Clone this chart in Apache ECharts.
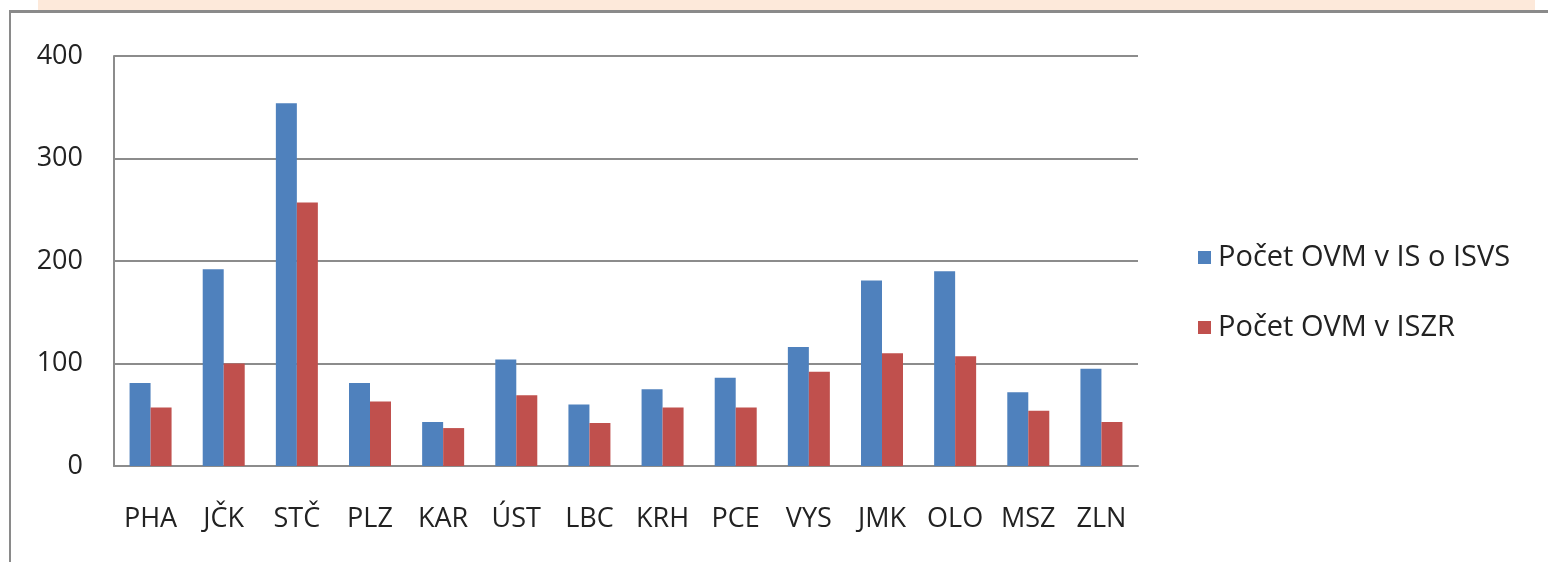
<!DOCTYPE html>
<html>
<head>
<meta charset="utf-8">
<script src="https://cdn.jsdelivr.net/npm/echarts@6/dist/echarts.min.js"></script>
<style>
  html, body { margin: 0; padding: 0; background: #fff; }
  #band { position: absolute; left: 38px; top: 0; width: 1497px; height: 10px; background: #fde9da; }
  #frame { position: absolute; left: 9px; top: 10px; width: 1560px; height: 580px; border-top: 3px solid #8a8a8a; border-left: 2px solid #8a8a8a; }
  #main { position: absolute; left: 0; top: 0; width: 1548px; height: 562px; }
</style>
</head>
<body>
<div id="band"></div>
<div id="frame"></div>
<div id="main"></div>
<script>
// kraje
const regions = ['PHA', 'JČK', 'STČ', 'PLZ', 'KAR', 'ÚST', 'LBC', 'KRH', 'PCE', 'VYS', 'JMK', 'OLO', 'MSZ', 'ZLN'];
// Počet OVM v IS o ISVS
const isvsCounts = [81, 192, 354, 81, 43, 104, 60, 75, 86, 116, 181, 190, 72, 95];
// Počet OVM v ISZR
const iszrCounts = [57, 100, 257, 63, 37, 69, 42, 57, 57, 92, 110, 107, 54, 43];
const yTicks = [0, 100, 200, 300, 400];

const myChart = echarts.init(document.querySelector('#main'));
const font = 'Open Sans';

const option = {
  animation: false,
  grid: { left: 114, right: 410, top: 56, bottom: 96 },
  legend: {
    orient: 'vertical',
    left: 1193,
    top: 238,
    itemGap: 41,
    itemWidth: 13,
    itemHeight: 13,
    icon: 'rect',
    textStyle: { fontFamily: font, fontSize: 29, color: '#222', padding: [0, 0, 0, 2] },
    data: ['Počet OVM v IS o ISVS', 'Počet OVM v ISZR']
  },
  xAxis: {
    type: 'category',
    data: regions,
    axisLine: { lineStyle: { color: '#8c8c8c', width: 2 } },
    axisTick: { show: false },
    axisLabel: { fontFamily: font, fontSize: 27, color: '#222', margin: 40, interval: 0 }
  },
  yAxis: {
    type: 'value',
    min: yTicks[0],
    max: yTicks[yTicks.length - 1],
    interval: 100,
    axisLine: { show: true, lineStyle: { color: '#8c8c8c', width: 2 } },
    axisTick: { show: false },
    axisLabel: { fontFamily: font, fontSize: 27, color: '#222', margin: 31 },
    splitLine: { lineStyle: { color: '#8c8c8c', width: 2 } }
  },
  series: [
    {
      name: 'Počet OVM v IS o ISVS',
      type: 'bar',
      data: isvsCounts,
      barWidth: 21,
      barGap: '0%',
      itemStyle: { color: '#4f81bd' }
    },
    {
      name: 'Počet OVM v ISZR',
      type: 'bar',
      data: iszrCounts,
      barWidth: 21,
      itemStyle: { color: '#c0504d' }
    }
  ]
};

myChart.setOption(option);
</script>
</body>
</html>
